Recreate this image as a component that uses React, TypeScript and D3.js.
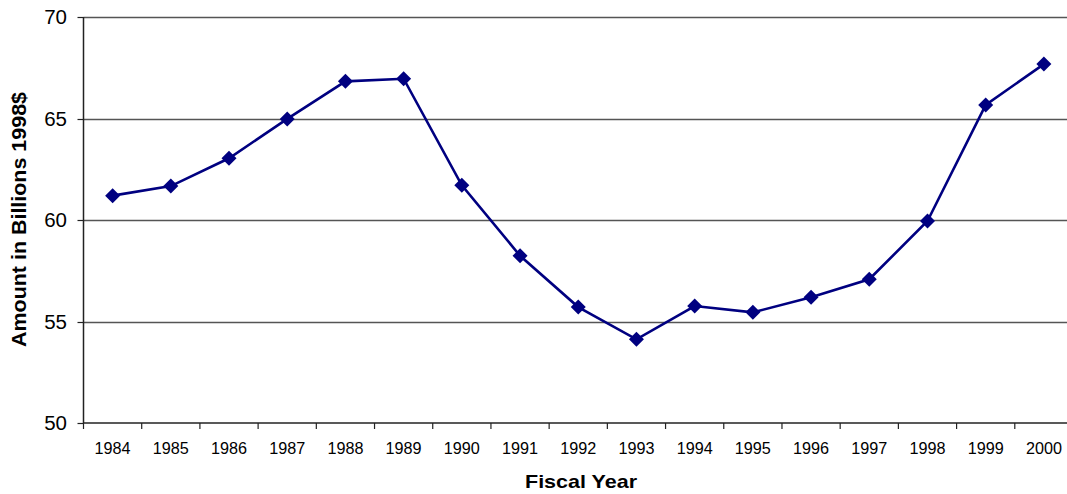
import React from "react";
import * as d3 from "d3";

const years: string[] = [
  "1984", "1985", "1986", "1987", "1988", "1989", "1990", "1991", "1992",
  "1993", "1994", "1995", "1996", "1997", "1998", "1999", "2000",
];
const amounts: number[] = [
  61.2, 61.67, 63.04, 64.98, 66.83, 66.96, 61.71, 58.24, 55.71,
  54.12, 55.76, 55.45, 56.19, 57.08, 59.95, 65.67, 67.68,
];
const yTicks: number[] = [50, 55, 60, 65, 70];

const W = 1067;
const H = 494;
const left = 83.5;
const right = 1073;
const top = 17;
const bottom = 423;
const FONT = "'Liberation Sans', Arial, Helvetica, sans-serif";
const NAVY = "#000080";

export default function App() {
  const x = d3.scaleBand<string>().domain(years).range([left, right]);
  const y = d3.scaleLinear().domain([50, 70]).range([bottom, top]);
  const cx = (yr: string) => (x(yr) as number) + x.bandwidth() / 2;

  const line = d3
    .line<number>()
    .x((_, i) => cx(years[i]))
    .y((d) => y(d));

  const diamond = (px: number, py: number, r: number) =>
    `M${px},${py - r}L${px + r},${py}L${px},${py + r}L${px - r},${py}Z`;

  const boundaries = years.map((yr) => x(yr) as number).concat([right]);

  return (
    <svg
      width={W}
      height={H}
      style={{ position: "absolute", left: 0, top: 0, background: "#fff" }}
      fontFamily={FONT}
    >
      <rect x={0} y={0} width={W} height={H} fill="#fff" />
      {/* horizontal grid */}
      {yTicks
        .filter((t) => t !== 50)
        .map((t) => (
          <line
            key={`g${t}`}
            x1={left}
            x2={right}
            y1={Math.round(y(t)) + 0.5}
            y2={Math.round(y(t)) + 0.5}
            stroke="#555"
            strokeWidth={1.3}
          />
        ))}
      {/* y axis */}
      <line x1={left} x2={left} y1={top} y2={bottom} stroke="#222" strokeWidth={1.5} />
      {yTicks.map((t) => (
        <g key={`y${t}`}>
          <line
            x1={left - 6}
            x2={left}
            y1={Math.round(y(t)) + 0.5}
            y2={Math.round(y(t)) + 0.5}
            stroke="#222"
            strokeWidth={1.2}
          />
          <text
            x={67}
            y={y(t)}
            dy="0.36em"
            textAnchor="end"
            fontSize={20.5}
            fill="#000"
          >
            {t}
          </text>
        </g>
      ))}
      {/* x axis */}
      <line x1={left} x2={right} y1={bottom} y2={bottom} stroke="#222" strokeWidth={1.5} />
      {boundaries.map((b, i) => (
        <line
          key={`xt${i}`}
          x1={b}
          x2={b}
          y1={bottom}
          y2={bottom + 6}
          stroke="#222"
          strokeWidth={1.2}
        />
      ))}
      {years.map((yr) => (
        <text
          key={`xl${yr}`}
          x={cx(yr)}
          y={454}
          textAnchor="middle"
          fontSize={16.2}
          fill="#000"
        >
          {yr}
        </text>
      ))}
      {/* series */}
      <path d={line(amounts) || ""} fill="none" stroke={NAVY} strokeWidth={2.6} />
      {amounts.map((v, i) => (
        <path key={`m${i}`} d={diamond(cx(years[i]), y(v), 7.5)} fill={NAVY} />
      ))}
      {/* titles */}
      <text
        x={581}
        y={488}
        textAnchor="middle"
        fontSize={19}
        fontWeight="bold"
        fill="#000"
        textLength={112}
        lengthAdjust="spacingAndGlyphs"
      >
        Fiscal Year
      </text>
      <text
        transform={`translate(26, 219.5) rotate(-90)`}
        textAnchor="middle"
        fontSize={19.5}
        fontWeight="bold"
        fill="#000"
        textLength={255}
        lengthAdjust="spacingAndGlyphs"
      >
        Amount in Billions 1998$
      </text>
    </svg>
  );
}
